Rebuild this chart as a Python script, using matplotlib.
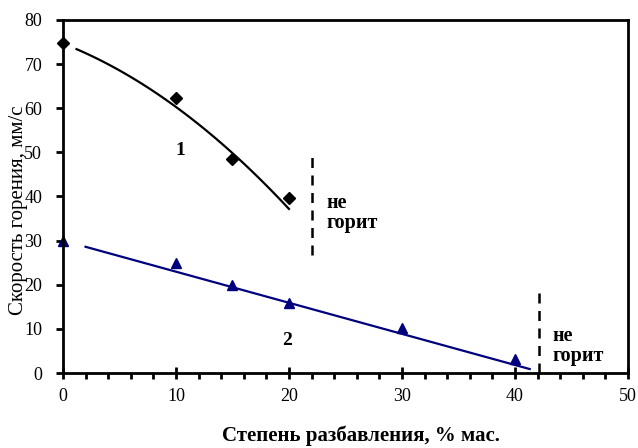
import numpy as np
import matplotlib.pyplot as plt
from matplotlib.ticker import MultipleLocator

# скорость горения в зависимости от степени разбавления
x1 = [0, 10, 15, 20]
y1 = [74.7, 62.3, 48.4, 39.6]
x2 = [0, 10, 15, 20, 30, 40]
y2 = [30.0, 25.0, 19.9, 15.9, 10.1, 3.1]

# линии тренда: полином 2-й степени для 1, прямая для 2
trend1_coef = [-0.0437, -1.0, 74.66]
trend1_range = [1.2, 20.0]
trend2_x = [2.0, 41.3]
trend2_y = [28.6, 0.9]

plt.rcParams['font.family'] = ['Liberation Serif', 'DejaVu Serif']

fig = plt.figure(figsize=(6.38, 4.48), dpi=100)
ax = fig.add_axes([0.0987, 0.1674, 0.8856, 0.7880])

xt = np.linspace(trend1_range[0], trend1_range[1], 100)
ax.plot(xt, np.polyval(trend1_coef, xt), color='black', lw=1.6)
ax.plot(trend2_x, trend2_y, color='#00007f', lw=1.6)

ax.plot(x1, y1, 'D', color='black', ms=6, clip_on=False)
ax.plot(x2, y2, '^', color='#00007f', ms=7, clip_on=False)

# границы горения
ax.plot([22, 22], [26.7, 49.8], '--', color='black', lw=1.8, dashes=(4, 3))
ax.plot([42.15, 42.15], [0, 18.1], '--', color='black', lw=1.8, dashes=(4, 3))
ax.text(23.3, 36.3, 'не\nгорит', fontsize=14.5, fontweight='bold', va='center', linespacing=1.0)
ax.text(43.3, 6.2, 'не\nгорит', fontsize=14.5, fontweight='bold', va='center', linespacing=1.0)
ax.text(10.35, 50.5, '1', fontsize=14, fontweight='bold', ha='center', va='center')
ax.text(19.8, 7.3, '2', fontsize=14, fontweight='bold', ha='center', va='center')

ax.set_xlim(0, 50)
ax.set_ylim(0, 80)
ax.xaxis.set_major_locator(MultipleLocator(10))
ax.xaxis.set_minor_locator(MultipleLocator(2))
ax.yaxis.set_major_locator(MultipleLocator(10))
ax.tick_params(axis='x', which='major', direction='inout', length=8, width=2, labelsize=13, pad=7)
ax.tick_params(axis='x', which='minor', direction='out', length=4, width=2)
ax.tick_params(axis='y', which='major', direction='out', length=5, width=2, labelsize=13, pad=10)
for s in ax.spines.values():
    s.set_linewidth(2)

ax.set_xlabel('Степень разбавления, % мас.', fontsize=15, fontweight='bold')
ax.xaxis.set_label_coords(0.527, -0.15)
ax.set_ylabel('Скорость горения, мм/с', fontsize=15)
ax.yaxis.set_label_coords(-0.062, 0.46)

plt.savefig('out.png', dpi=100)
